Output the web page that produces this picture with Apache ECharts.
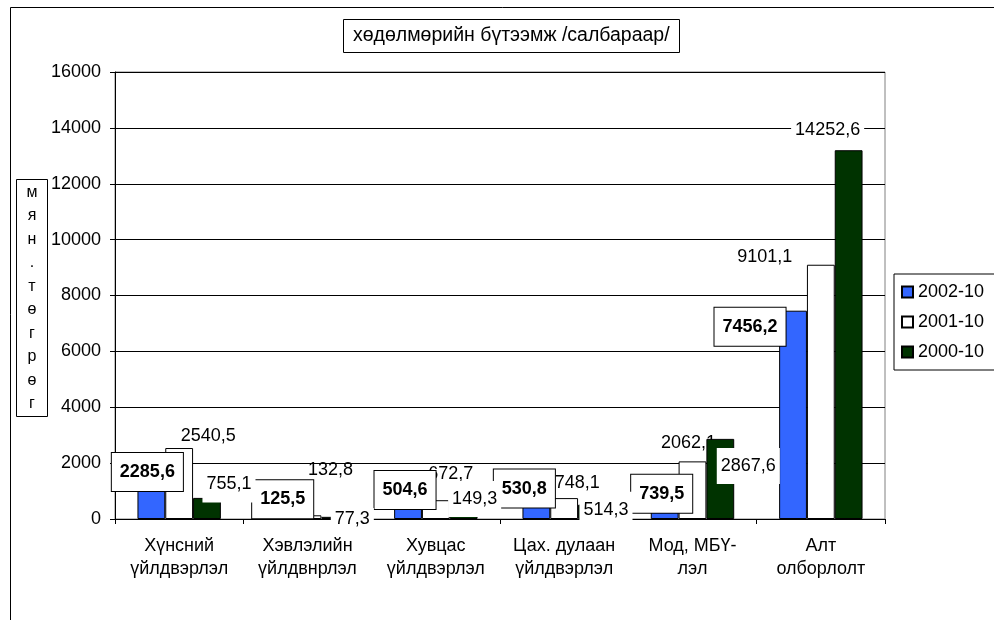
<!DOCTYPE html>
<html>
<head>
<meta charset="utf-8">
<script src="https://cdn.jsdelivr.net/npm/echarts@6/dist/echarts.min.js"></script>
<style>
  html, body { margin: 0; padding: 0; background: #fff; }
  #chart { width: 994px; height: 620px; }
</style>
</head>
<body>
<div id="chart"></div>
<script>
// салбарууд
var categories = ['Хүнсний\nүйлдвэрлэл', 'Хэвлэлийн\nүйлдвнрлэл', 'Хувцас\nүйлдвэрлэл',
  'Цах. дулаан\nүйлдвэрлэл', 'Мод, МБҮ-\nлэл', 'Алт\nолборлолт']
var seriesNames = ['2002-10', '2001-10', '2000-10']

// баганын өндөр (мян.төгрөг)
var values2002 = [2285.6, 125.5, 504.6, 530.8, 739.5, 7456.2]
var values2001 = [2540.5, 132.8, 672.7, 748.1, 2062.1, 9101.1]
var values2000 = [755.1, 77.3, 149.3, 514.3, 2867.6, 13200]

// утгын шошго
var labels2002 = ['2285,6', '125,5', '504,6', '530,8', '739,5', '7456,2']
var labels2001 = ['2540,5', '132,8', '672,7', '748,1', '2062,1', '9101,1']
var labels2000 = ['755,1', '77,3', '149,3', '514,3', '2867,6', '14252,6']

var yTicks = [0, 2000, 4000, 6000, 8000, 10000, 12000, 14000, 16000]
var unitChars = ['м', 'я', 'н', '.', 'т', 'ө', 'г', 'р', 'ө', 'г']

// шошгыг гараар зөөсөн байрлал (px, баганын төвөөс)
var nudge2002 = [[-4, -15], [3, -18], [-3, -22], [-12, -23], [-3, -15], [-43, -88]]
var nudge2001 = [[29, -47], [23, -47], [15, -36], [13, -26], [-4, -47], [-56, -135]]
var nudge2000 = [[22, -24], [17, 1], [11, -18], [14, -2], [28, -13], [-21, -205]]

var font = 'Liberation Sans, Arial, sans-serif'

function makeData(values, labels, nudges) {
  return values.map(function (v, i) {
    return { value: v, label: { offset: nudges[i], formatter: labels[i] } }
  })
}

function baseLabel() {
  return {
    show: true,
    position: ['50%', '50%'],
    align: 'center',
    verticalAlign: 'middle',
    color: '#000',
    fontFamily: font,
    fontSize: 18,
    textBorderWidth: 0
  }
}

var blueLabel = baseLabel()
blueLabel.fontWeight = 'bold'
blueLabel.backgroundColor = '#fff'
blueLabel.borderColor = '#000'
blueLabel.borderWidth = 1
blueLabel.padding = [10, 8]

var whiteLabel = baseLabel()

var greenLabel = baseLabel()
greenLabel.backgroundColor = '#fff'
greenLabel.padding = [6, 4, 12, 4]

var greenData = makeData(values2000, labels2000, nudge2000)
// 77,3 — тэнхлэг дээр, жижиг дэвсгэртэй
greenData[1].label.padding = [2, 4]

var option = {
  animation: false,
  backgroundColor: '#fff',
  title: {
    text: 'хөдөлмөрийн бүтээмж /салбараар/',
    left: 343,
    top: 19,
    padding: [7, 10],
    borderColor: '#000',
    borderWidth: 1,
    textStyle: { fontFamily: font, fontSize: 19.5, fontWeight: 'normal', color: '#000' }
  },
  legend: {
    orient: 'vertical',
    left: 894,
    top: 274,
    padding: [9, 40, 9, 7],
    itemGap: 12,
    itemWidth: 11,
    itemHeight: 11,
    borderColor: '#000',
    borderWidth: 1,
    icon: 'rect',
    data: seriesNames,
    textStyle: { fontFamily: font, fontSize: 18, color: '#000' }
  },
  graphic: [
    {
      type: 'rect',
      shape: { x: 10.5, y: 7.5, width: 1100, height: 700 },
      style: { fill: 'none', stroke: '#000', lineWidth: 1 },
      silent: true
    },
    {
      type: 'rect',
      shape: { x: 16.5, y: 179.5, width: 31, height: 237 },
      style: { fill: '#fff', stroke: '#000', lineWidth: 1 },
      silent: true
    },
    {
      type: 'text',
      x: 32,
      y: 298,
      style: {
        text: unitChars.join('\n'),
        fontFamily: font,
        fontSize: 16,
        lineHeight: 23.5,
        align: 'center',
        verticalAlign: 'middle',
        fill: '#000'
      },
      silent: true
    }
  ],
  grid: {
    left: 115,
    top: 72,
    width: 770,
    height: 447,
    show: true,
    borderColor: '#808080',
    borderWidth: 1,
    backgroundColor: 'transparent'
  },
  xAxis: {
    type: 'category',
    data: categories,
    axisLine: { lineStyle: { color: '#000', width: 1 } },
    axisTick: { show: true, length: 5, alignWithLabel: false, lineStyle: { color: '#000' } },
    axisLabel: {
      interval: 0,
      margin: 16,
      color: '#000',
      fontFamily: font,
      fontSize: 18,
      lineHeight: 23
    }
  },
  yAxis: {
    type: 'value',
    min: yTicks[0],
    max: yTicks[yTicks.length - 1],
    interval: yTicks[1] - yTicks[0],
    axisLine: { show: true, lineStyle: { color: '#000', width: 1 } },
    axisTick: { show: true, length: 5, lineStyle: { color: '#000' } },
    axisLabel: {
      margin: 14,
      color: '#000',
      fontFamily: font,
      fontSize: 18,
      formatter: function (v) { return String(v) }
    },
    splitLine: { show: true, lineStyle: { color: '#000', width: 1 } }
  },
  series: [
    {
      name: seriesNames[0],
      type: 'bar',
      barGap: '0%',
      barCategoryGap: '35%',
      itemStyle: { color: '#3366FF', borderColor: '#000', borderWidth: 1 },
      label: blueLabel,
      data: makeData(values2002, labels2002, nudge2002)
    },
    {
      name: seriesNames[1],
      type: 'bar',
      z: 1,
      itemStyle: { color: '#FFFFFF', borderColor: '#000', borderWidth: 1 },
      label: whiteLabel,
      data: makeData(values2001, labels2001, nudge2001)
    },
    {
      name: seriesNames[2],
      type: 'bar',
      itemStyle: { color: '#003300', borderColor: '#000', borderWidth: 1 },
      label: greenLabel,
      data: greenData
    }
  ]
}

var chart = echarts.init(document.getElementById('chart'))
chart.setOption(option)
</script>
</body>
</html>
